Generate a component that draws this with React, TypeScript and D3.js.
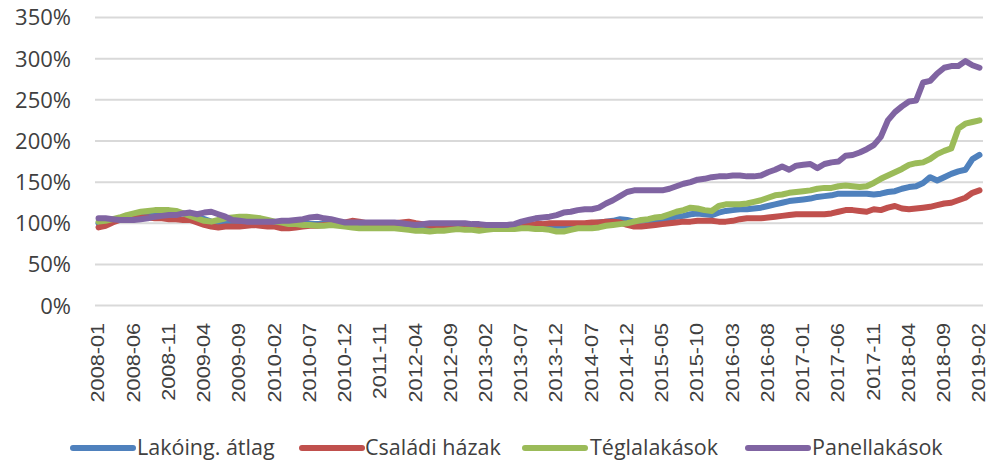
import React, { useEffect, useRef } from 'react';
import * as d3 from 'd3';

// months 2008-01 .. 2019-02, some months are not in the source table
const firstYear = 2008;
const lastMonth = '2019-02';
const skippedMonths = ['2011-01', '2011-02', '2011-03', '2011-04', '2011-05', '2011-06', '2014-01', '2014-02'];

const months: string[] = [];
for (let y = firstYear; y <= 2019; y++) {
  for (let m = 1; m <= 12; m++) {
    const key = `${y}-${String(m).padStart(2, '0')}`;
    if (key > lastMonth) break;
    if (!skippedMonths.includes(key)) months.push(key);
  }
}

const yTicks = [0, 50, 100, 150, 200, 250, 300, 350];

const seriesNames = ['Lakóing. átlag', 'Családi házak', 'Téglalakások', 'Panellakások'];
const seriesColors = ['#4F81BD', '#C0504D', '#9BBB59', '#8064A2'];

const lakoingAtlag = [
  100, 101, 103, 105, 107, 109, 110, 111, 112, 113, 114, 113, 112, 110, 108, 105, 102, 100, 100, 100,
  101, 101, 101, 101, 100, 100, 99, 99, 99, 99, 99, 99, 99, 99, 99, 99, 98, 97, 97, 97,
  97, 97, 97, 96, 96, 96, 96, 95, 95, 95, 95, 95, 95, 95, 95, 95, 95, 95, 95, 96,
  96, 97, 97, 97, 97, 97, 97, 98, 99, 99, 100, 101, 102, 103, 105, 104, 102, 103, 104, 104,
  104, 106, 108, 109, 111, 112, 111, 110, 113, 115, 116, 117, 117, 118, 119, 121, 123, 125, 127, 128,
  129, 130, 132, 133, 134, 136, 136, 136, 136, 136, 135, 136, 138, 139, 142, 144, 145, 149, 156, 152,
  156, 160, 163, 165, 178, 183,
];

const csaladiHazak = [
  95, 97, 101, 104, 106, 107, 107, 107, 106, 106, 105, 105, 104, 104, 101, 98, 96, 95, 96, 96,
  96, 97, 98, 97, 96, 96, 94, 94, 95, 96, 97, 97, 98, 98, 99, 101, 103, 102, 100, 100,
  100, 100, 100, 101, 102, 100, 99, 98, 97, 97, 96, 96, 96, 96, 96, 96, 96, 96, 96, 97,
  97, 98, 99, 99, 100, 100, 100, 100, 100, 100, 101, 101, 102, 102, 101, 98, 96, 96, 97, 98,
  99, 100, 101, 102, 102, 103, 103, 103, 102, 102, 103, 105, 106, 106, 106, 107, 108, 109, 110, 111,
  111, 111, 111, 111, 112, 114, 116, 116, 115, 114, 117, 116, 119, 121, 118, 117, 118, 119, 120, 122,
  124, 125, 128, 131, 137, 140,
];

const teglalakasok = [
  102, 103, 105, 107, 110, 112, 114, 115, 116, 116, 116, 115, 112, 109, 106, 103, 102, 104, 106, 107,
  108, 108, 107, 106, 104, 102, 101, 99, 99, 98, 98, 97, 97, 98, 97, 96, 95, 94, 94, 94,
  94, 94, 94, 93, 92, 91, 91, 90, 91, 91, 92, 93, 92, 92, 91, 92, 93, 93, 93, 93,
  94, 94, 93, 93, 92, 90, 90, 92, 94, 94, 94, 95, 97, 98, 99, 100, 102, 104, 105, 107,
  108, 111, 114, 116, 119, 118, 116, 115, 121, 123, 123, 123, 124, 126, 128, 131, 134, 135, 137, 138,
  139, 140, 142, 143, 143, 145, 146, 145, 144, 145, 149, 154, 158, 162, 166, 171, 173, 174, 178, 184,
  188, 191, 215, 221, 223, 225,
];

const panellakasok = [
  106, 106, 105, 104, 104, 104, 105, 106, 108, 109, 110, 110, 112, 113, 111, 113, 114, 111, 108, 104,
  103, 102, 102, 102, 102, 102, 103, 103, 104, 105, 107, 108, 106, 105, 103, 101, 101, 101, 101, 101,
  101, 101, 101, 100, 99, 98, 99, 100, 100, 100, 100, 100, 100, 99, 99, 98, 98, 98, 98, 99,
  102, 104, 106, 107, 108, 110, 113, 114, 116, 117, 117, 119, 124, 128, 133, 138, 140, 140, 140, 140,
  140, 142, 145, 148, 150, 153, 154, 156, 157, 157, 158, 158, 157, 157, 158, 162, 165, 169, 165, 170,
  171, 172, 167, 172, 174, 175, 182, 183, 186, 190, 195, 205, 225, 235, 242, 248, 249, 271, 273, 282,
  289, 291, 291, 297, 292, 289,
];

const seriesValues = [lakoingAtlag, csaladiHazak, teglalakasok, panellakasok];

const W = 988;
const H = 462;

const App = () => {
  const svgRef = useRef<SVGSVGElement>(null);

  useEffect(() => {
    const svg = d3.select(svgRef.current);
    svg.selectAll('*').remove();

    const x = d3.scaleBand<string>().domain(months).range([95, 983]);
    const y = d3.scaleLinear().domain([0, 350]).range([305.6, 17.5]);
    const cx = (m: string) => (x(m) as number) + x.bandwidth() / 2;

    // gridlines
    svg.append('g')
      .selectAll('line')
      .data(yTicks)
      .enter()
      .append('line')
      .attr('x1', 95)
      .attr('x2', 983)
      .attr('y1', d => y(d))
      .attr('y2', d => y(d))
      .attr('stroke', '#d9d9d9')
      .attr('stroke-width', 2);

    // y tick labels
    svg.append('g')
      .selectAll('text')
      .data(yTicks)
      .enter()
      .append('text')
      .attr('x', 71)
      .attr('y', d => y(d))
      .attr('dy', '0.36em')
      .attr('text-anchor', 'end')
      .style('font-family', '"Open Sans", sans-serif')
      .style('font-size', '22px')
      .style('fill', '#404040')
      .text(d => d + '%');

    // x tick labels, every 5th category (a bit stretched along the text, like the source)
    const labelled = months.filter((_, i) => i % 5 === 0);
    svg.append('g')
      .selectAll('text')
      .data(labelled)
      .enter()
      .append('text')
      .attr('transform', d => `translate(${cx(d) - 1},323) rotate(-90) scale(1.14,1)`)
      .attr('dy', '0.36em')
      .attr('text-anchor', 'end')
      .style('font-family', '"Liberation Sans", Arial, sans-serif')
      .style('font-size', '19px')
      .style('fill', '#404040')
      .text(d => d);

    // lines
    const line = d3.line<number>()
      .x((_, i) => cx(months[i]))
      .y(d => y(d));

    seriesValues.forEach((vals, k) => {
      svg.append('path')
        .datum(vals)
        .attr('d', line)
        .attr('fill', 'none')
        .attr('stroke', seriesColors[k])
        .attr('stroke-width', 6)
        .attr('stroke-linejoin', 'round')
        .attr('stroke-linecap', 'round');
    });

    // legend
    const legendItems = [
      { x1: 73, x2: 133, tx: 137 },
      { x1: 302, x2: 362, tx: 365 },
      { x1: 525, x2: 585, tx: 590 },
      { x1: 748, x2: 808, tx: 812 },
    ];
    const legend = svg.append('g');
    legendItems.forEach((it, k) => {
      legend.append('line')
        .attr('x1', it.x1)
        .attr('x2', it.x2)
        .attr('y1', 448)
        .attr('y2', 448)
        .attr('stroke', seriesColors[k])
        .attr('stroke-width', 6)
        .attr('stroke-linecap', 'round');
      legend.append('text')
        .attr('x', it.tx)
        .attr('y', 447)
        .attr('dy', '0.36em')
        .style('font-family', '"Open Sans", sans-serif')
        .style('font-size', '21.5px')
        .style('fill', '#404040')
        .text(seriesNames[k]);
    });
  }, []);

  return (
    <svg
      ref={svgRef}
      width={W}
      height={H}
      style={{ position: 'absolute', left: 0, top: 0, background: '#fff' }}
    />
  );
};

export default App;
